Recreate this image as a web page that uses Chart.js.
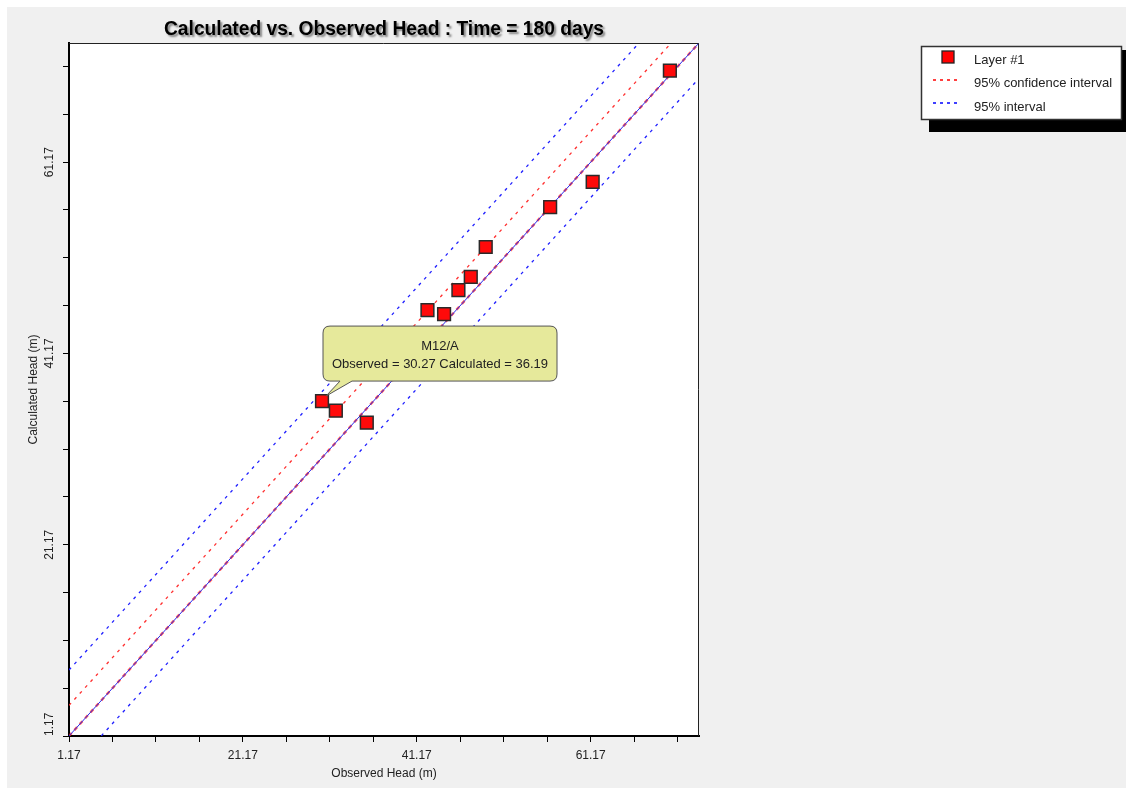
<!DOCTYPE html>
<html>
<head>
<meta charset="utf-8">
<script src="https://cdn.jsdelivr.net/npm/chart.js@4/dist/chart.umd.min.js"></script>
<style>
  html, body { margin: 0; padding: 0; background: #ffffff; }
  #wrap { width: 1126px; height: 788px; }
</style>
</head>
<body>
<div id="wrap"><canvas id="chart" width="1126" height="788"></canvas></div>
<script>
// Data
const observed   = [30.27, 31.86, 35.42, 42.40, 44.31, 45.96, 47.38, 49.10, 56.51, 61.40, 70.28];
const calculated = [36.19, 35.18, 33.93, 45.69, 45.27, 47.78, 49.17, 52.30, 56.47, 59.12, 70.74];
const axisMin = 1.17;
const axisMax = 73.63;
const tickStep = 5;
const labelStep = 20;
const confOffsets = [0, 3.2];      // 95% confidence interval (y = x + c)
const predOffsets = [-3.7, 6.9];   // 95% interval
const calloutIndex = 0;
const calloutName = "M12/A";

const FONT = "'Liberation Sans', Arial, sans-serif";

function lineData(c) {
  return [{ x: axisMin, y: axisMin + c }, { x: axisMax, y: axisMax + c }];
}

const points = observed.map((x, i) => ({ x: x, y: calculated[i] }));

// Background, frame, titles, legend and callout
const framePlugin = {
  id: "frame",
  beforeDraw(chart) {
    const { ctx, chartArea: a, width, height } = chart;
    ctx.save();
    ctx.fillStyle = "#ffffff";
    ctx.fillRect(0, 0, width, height);
    ctx.fillStyle = "#f0f0f0";
    ctx.fillRect(7, 7, width - 7, height - 7);
    ctx.fillStyle = "#ffffff";
    ctx.fillRect(a.left, a.top, a.right - a.left, a.bottom - a.top);
    ctx.restore();
  },
  afterDraw(chart) {
    const { ctx, chartArea: a, scales } = chart;
    ctx.save();
    // top/right frame
    ctx.strokeStyle = "#222";
    ctx.lineWidth = 1;
    ctx.beginPath();
    ctx.moveTo(a.left, a.top + 0.5);
    ctx.lineTo(a.right - 0.5, a.top + 0.5);
    ctx.lineTo(a.right - 0.5, a.bottom);
    ctx.stroke();

    // title with shadow
    ctx.font = "bold 20px 'Liberation Sans Narrow', " + FONT;
    ctx.textAlign = "center";
    ctx.textBaseline = "middle";
    ctx.shadowColor = "rgba(0,0,0,0.45)";
    ctx.shadowOffsetX = 2;
    ctx.shadowOffsetY = 2;
    ctx.shadowBlur = 2;
    ctx.fillStyle = "#000";
    const title = "Calculated vs. Observed Head : Time = 180 days";
    const tw = ctx.measureText(title).width;
    const sx = 440 / tw;
    ctx.translate((a.left + a.right) / 2, 29);
    ctx.scale(sx, 1);
    ctx.fillText(title, 0, 0);
    ctx.setTransform(1, 0, 0, 1, 0, 0);
    ctx.shadowColor = "transparent";

    // axis titles
    ctx.font = "12px " + FONT;
    ctx.fillStyle = "#222";
    ctx.fillText("Observed Head (m)", (a.left + a.right) / 2, 774);
    ctx.save();
    ctx.translate(34, (a.top + a.bottom) / 2);
    ctx.rotate(-Math.PI / 2);
    ctx.fillText("Calculated Head (m)", 0, 0);
    ctx.restore();

    // y tick labels (rotated)
    const ys = scales.y;
    for (let v = axisMin; v <= axisMax; v += labelStep) {
      const label = v.toFixed(2);
      const lw = ctx.measureText(label).width;
      let py = ys.getPixelForValue(v);
      if (py + lw / 2 > a.bottom) py = a.bottom - lw / 2;
      ctx.save();
      ctx.translate(50, py);
      ctx.rotate(-Math.PI / 2);
      ctx.fillText(label, 0, 0);
      ctx.restore();
    }

    // legend
    const lx = 921, ly = 46, lw = 200, lh = 73;
    ctx.fillStyle = "#000";
    ctx.fillRect(lx + 8, ly + 4, lw, lh + 9);
    ctx.fillStyle = "#fff";
    ctx.fillRect(lx, ly, lw, lh);
    ctx.strokeStyle = "#333";
    ctx.lineWidth = 1.5;
    ctx.strokeRect(lx + 0.5, ly + 0.5, lw, lh);

    ctx.fillStyle = "#ff0000";
    ctx.fillRect(942, 51, 12, 12);
    ctx.strokeStyle = "#222";
    ctx.lineWidth = 1.3;
    ctx.strokeRect(942, 51, 12, 12);

    ctx.lineWidth = 1.4;
    ctx.setLineDash([3, 4]);
    ctx.strokeStyle = "#ff0000";
    ctx.beginPath(); ctx.moveTo(933, 80); ctx.lineTo(961, 80); ctx.stroke();
    ctx.strokeStyle = "#0000ff";
    ctx.beginPath(); ctx.moveTo(933, 103); ctx.lineTo(961, 103); ctx.stroke();
    ctx.setLineDash([]);

    ctx.fillStyle = "#222";
    ctx.font = "13px " + FONT;
    ctx.textAlign = "left";
    ctx.fillText("Layer #1", 974, 60);
    ctx.fillText("95% confidence interval", 974, 83);
    ctx.fillText("95% interval", 974, 107);

    // callout
    const xs = scales.x;
    const px = xs.getPixelForValue(observed[calloutIndex]);
    const py = ys.getPixelForValue(calculated[calloutIndex]);
    const bx = px + 1, by = py - 75, bw = 234, bh = 55, r = 7;
    ctx.beginPath();
    ctx.moveTo(bx + r, by);
    ctx.lineTo(bx + bw - r, by);
    ctx.quadraticCurveTo(bx + bw, by, bx + bw, by + r);
    ctx.lineTo(bx + bw, by + bh - r);
    ctx.quadraticCurveTo(bx + bw, by + bh, bx + bw - r, by + bh);
    ctx.lineTo(px + 30, by + bh);
    ctx.lineTo(px + 4, py - 5);
    ctx.lineTo(px + 18, by + bh);
    ctx.lineTo(bx + r, by + bh);
    ctx.quadraticCurveTo(bx, by + bh, bx, by + bh - r);
    ctx.lineTo(bx, by + r);
    ctx.quadraticCurveTo(bx, by, bx + r, by);
    ctx.closePath();
    ctx.fillStyle = "#e6e99b";
    ctx.fill();
    ctx.strokeStyle = "#555";
    ctx.lineWidth = 1;
    ctx.stroke();

    ctx.fillStyle = "#222";
    ctx.textAlign = "center";
    ctx.font = "13px " + FONT;
    ctx.fillText(calloutName, bx + bw / 2, by + 20);
    ctx.fillText("Observed = " + observed[calloutIndex].toFixed(2) +
                 " Calculated = " + calculated[calloutIndex].toFixed(2), bx + bw / 2, by + 38);
    ctx.restore();
  }
};

function fixedTicks(scale) {
  const t = [];
  for (let v = axisMin; v <= axisMax + 1e-9; v += tickStep) t.push({ value: +v.toFixed(2) });
  scale.ticks = t;
}

function tickLabel(value) {
  const k = (value - axisMin) / labelStep;
  return Math.abs(k - Math.round(k)) < 1e-6 ? value.toFixed(2) : "";
}

new Chart(document.getElementById("chart"), {
  type: "scatter",
  data: {
    datasets: [
      {
        label: "1:1",
        type: "line",
        data: lineData(0),
        borderColor: "#2828e8",
        borderWidth: 1,
        pointRadius: 0,
        order: 3
      },
      {
        label: "95% confidence interval",
        type: "line",
        data: lineData(confOffsets[0]),
        borderColor: "rgba(255,30,30,0.75)",
        borderWidth: 2.4,
        borderDash: [4, 4],
        pointRadius: 0,
        order: 4
      },
      {
        label: "95% confidence interval upper",
        type: "line",
        data: lineData(confOffsets[1]),
        borderColor: "#ff3030",
        borderWidth: 1.3,
        borderDash: [3, 5],
        pointRadius: 0,
        order: 4
      },
      {
        label: "95% interval lower",
        type: "line",
        data: lineData(predOffsets[0]),
        borderColor: "#2020ff",
        borderWidth: 1.3,
        borderDash: [3, 5],
        pointRadius: 0,
        order: 4
      },
      {
        label: "95% interval upper",
        type: "line",
        data: lineData(predOffsets[1]),
        borderColor: "#2020ff",
        borderWidth: 1.3,
        borderDash: [3, 5],
        pointRadius: 0,
        order: 4
      },
      {
        label: "Layer #1",
        data: points,
        pointStyle: "rect",
        pointRadius: 9,
        pointHoverRadius: 9,
        backgroundColor: "#ff0a0a",
        borderColor: "#2a2a2a",
        borderWidth: 1.5,
        order: 1
      }
    ]
  },
  options: {
    responsive: false,
    animation: false,
    events: [],
    layout: { padding: { top: 43, right: 427, left: 0, bottom: 0 } },
    plugins: {
      legend: { display: false },
      tooltip: { enabled: false },
      title: { display: false }
    },
    scales: {
      x: {
        type: "linear",
        min: axisMin,
        max: axisMax,
        afterBuildTicks: fixedTicks,
        afterFit(scale) { scale.height = 52; },
        border: { display: true, color: "#000", width: 2 },
        grid: { drawOnChartArea: false, drawTicks: true, tickLength: 6, color: "#000", lineWidth: 1 },
        ticks: {
          autoSkip: false,
          maxRotation: 0,
          padding: 6,
          color: "#222",
          font: { family: FONT, size: 12 },
          callback: tickLabel
        }
      },
      y: {
        type: "linear",
        min: axisMin,
        max: axisMax,
        afterBuildTicks: fixedTicks,
        afterFit(scale) { scale.width = 69; },
        border: { display: true, color: "#000", width: 2 },
        grid: { drawOnChartArea: false, drawTicks: true, tickLength: 6, color: "#000", lineWidth: 1 },
        ticks: { display: false, autoSkip: false }
      }
    }
  },
  plugins: [framePlugin]
});
</script>
</body>
</html>
